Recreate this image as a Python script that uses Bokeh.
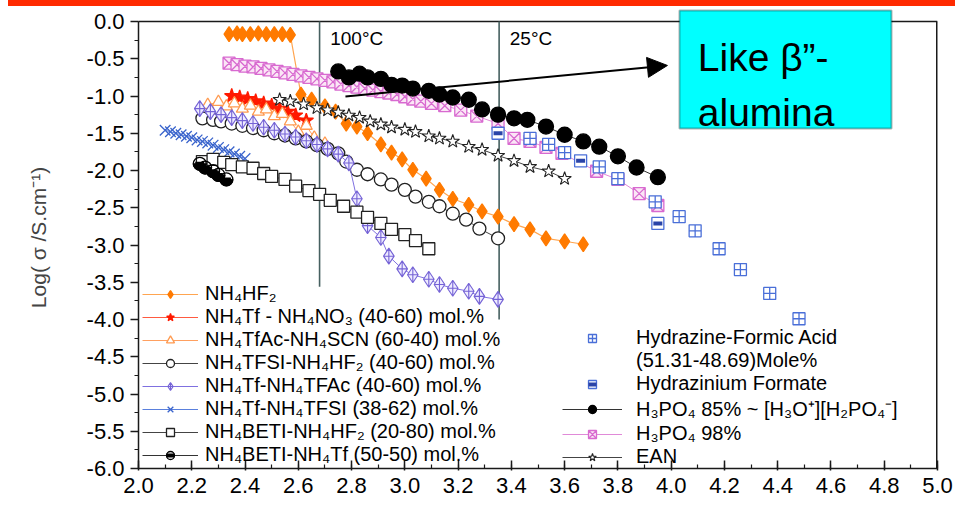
import numpy as np
from bokeh.plotting import figure
from bokeh.layouts import column
from bokeh.models import (Legend, LegendItem, SingleIntervalTicker, PrintfTickFormatter,
                          BoxAnnotation, Label, Arrow, NormalHead, Div)
from bokeh.embed import file_html
from bokeh.resources import INLINE

# ---------------- data: log(conductivity) against 1000/T ----------------
hf2_x = [2.34, 2.37, 2.39, 2.42, 2.45, 2.48, 2.51, 2.54, 2.57, 2.61, 2.65, 2.70, 2.74, 2.78,
         2.82, 2.86, 2.91, 2.95, 2.99, 3.03, 3.08, 3.13, 3.18, 3.24, 3.29, 3.35, 3.41, 3.47,
         3.53, 3.60, 3.67]
hf2_y = [-0.17, -0.16, -0.17, -0.17, -0.16, -0.17, -0.17, -0.17, -0.18, -0.98, -1.05, -1.14,
         -1.21, -1.37, -1.41, -1.50, -1.65, -1.76, -1.85, -1.99, -2.11, -2.26, -2.38, -2.46,
         -2.55, -2.62, -2.72, -2.79, -2.91, -2.95, -2.99]

no3_x = [2.35, 2.38, 2.41, 2.44, 2.47, 2.50, 2.53, 2.56, 2.59, 2.63]
no3_y = [-1.00, -1.02, -1.04, -1.07, -1.10, -1.13, -1.17, -1.21, -1.26, -1.33]

scn_x = [2.26, 2.30, 2.33, 2.36, 2.39, 2.42, 2.45, 2.48, 2.51, 2.54, 2.57, 2.60, 2.63, 2.66, 2.70]
scn_y = [-1.12, -1.08, -1.14, -1.10, -1.17, -1.13, -1.21, -1.18, -1.27, -1.24, -1.34, -1.48,
         -1.40, -1.56, -1.64]

tfsi_hf2_x = [2.24, 2.28, 2.31, 2.35, 2.39, 2.43, 2.47, 2.51, 2.55, 2.59, 2.63, 2.67, 2.71,
              2.75, 2.78, 2.82, 2.86, 2.91, 2.95, 3.00, 3.04, 3.09, 3.13, 3.18, 3.23, 3.28, 3.35]
tfsi_hf2_y = [-1.30, -1.32, -1.34, -1.37, -1.40, -1.43, -1.46, -1.50, -1.53, -1.57, -1.61,
              -1.66, -1.71, -1.77, -1.88, -1.99, -2.05, -2.12, -2.19, -2.26, -2.35, -2.42,
              -2.48, -2.58, -2.66, -2.78, -2.91]

tfac_x = [2.23, 2.27, 2.31, 2.35, 2.39, 2.43, 2.47, 2.51, 2.55, 2.59, 2.63, 2.67, 2.71, 2.75,
          2.79, 2.82, 2.86, 2.91, 2.94, 2.99, 3.03, 3.09, 3.13, 3.18, 3.24, 3.28, 3.35]
tfac_y = [-1.17, -1.21, -1.25, -1.29, -1.33, -1.37, -1.42, -1.46, -1.51, -1.55, -1.60, -1.65,
          -1.71, -1.78, -1.90, -2.38, -2.74, -2.90, -3.15, -3.32, -3.40, -3.46, -3.53, -3.58,
          -3.62, -3.69, -3.73]

tf_tfsi_x = [2.10, 2.12, 2.14, 2.16, 2.18, 2.20, 2.22, 2.24, 2.26, 2.28, 2.30, 2.32, 2.34,
             2.36, 2.38, 2.40]
tf_tfsi_y = [-1.46, -1.48, -1.50, -1.52, -1.54, -1.56, -1.59, -1.61, -1.63, -1.66, -1.69,
             -1.72, -1.75, -1.78, -1.81, -1.84]

beti_hf2_x = [2.24, 2.28, 2.32, 2.35, 2.39, 2.43, 2.47, 2.50, 2.55, 2.59, 2.64, 2.68, 2.72,
              2.77, 2.82, 2.86, 2.91, 2.95, 3.00, 3.04, 3.09]
beti_hf2_y = [-1.88, -1.85, -1.89, -1.92, -1.95, -1.97, -2.04, -2.08, -2.12, -2.21, -2.27,
              -2.32, -2.40, -2.48, -2.56, -2.63, -2.71, -2.79, -2.86, -2.94, -3.05]

beti_tf_x = [2.23, 2.25, 2.28, 2.30, 2.33]
beti_tf_y = [-1.91, -1.96, -2.01, -2.06, -2.12]

hfa_x = [3.47, 3.54, 3.60, 3.73, 3.80, 3.94, 4.03, 4.09, 4.18, 4.26, 4.37, 4.48]
hfa_y = [-1.57, -1.65, -1.76, -1.95, -2.11, -2.42, -2.62, -2.81, -3.05, -3.33, -3.65, -3.99]

hzf_x = [3.35, 3.66, 3.95]
hzf_y = [-1.50, -1.87, -2.71]

h3po4_85_x = [2.75, 2.79, 2.83, 2.86, 2.91, 2.95, 2.99, 3.03, 3.09, 3.13, 3.18, 3.24, 3.29,
              3.35, 3.41, 3.46, 3.53, 3.60, 3.67, 3.73, 3.80, 3.87, 3.95]
h3po4_85_y = [-0.67, -0.75, -0.70, -0.75, -0.77, -0.85, -0.86, -0.90, -0.93, -0.98, -1.02,
              -1.05, -1.18, -1.25, -1.30, -1.32, -1.41, -1.52, -1.61, -1.68, -1.81, -1.96, -2.09]

h3po4_98_x = [2.34, 2.37, 2.40, 2.43, 2.46, 2.49, 2.52, 2.55, 2.58, 2.61, 2.64, 2.67, 2.70,
              2.73, 2.76, 2.79, 2.82, 2.85, 2.88, 2.91, 2.94, 2.97, 3.00, 3.03, 3.06, 3.10,
              3.15, 3.21, 3.27, 3.35, 3.41, 3.47, 3.53, 3.59, 3.72, 3.80, 3.88, 3.95]
h3po4_98_y = [-0.56, -0.58, -0.60, -0.61, -0.63, -0.65, -0.67, -0.69, -0.71, -0.73, -0.75,
              -0.77, -0.79, -0.81, -0.84, -0.86, -0.88, -0.90, -0.92, -0.94, -0.96, -0.98,
              -1.01, -1.04, -1.07, -1.10, -1.13, -1.19, -1.27, -1.37, -1.57, -1.61, -1.69,
              -1.77, -2.01, -2.12, -2.31, -2.47]

ean_x = [2.53, 2.57, 2.62, 2.67, 2.71, 2.75, 2.79, 2.83, 2.87, 2.91, 2.95, 3.00, 3.04, 3.09,
         3.13, 3.18, 3.24, 3.29, 3.35, 3.41, 3.47, 3.54, 3.60]
ean_y = [-1.05, -1.07, -1.11, -1.16, -1.19, -1.22, -1.26, -1.29, -1.34, -1.38, -1.42, -1.45,
         -1.48, -1.54, -1.57, -1.61, -1.68, -1.72, -1.80, -1.87, -1.95, -2.01, -2.11]

# reference temperatures (deg C) and the depth of their marker lines
ref_temps = [100, 25]
ref_temp_labels = ["100°C", "25°C"]
ref_line_bottom = [-3.56, -4.0]

LEGEND_LEFT = [
    "NH₄HF₂",
    "NH₄Tf - NH₄NO₃ (40-60) mol.%",
    "NH₄TfAc-NH₄SCN (60-40) mol.%",
    "NH₄TFSI-NH₄HF₂ (40-60) mol.%",
    "NH₄Tf-NH₄TFAc (40-60) mol.%",
    "NH₄Tf-NH₄TFSI (38-62) mol.%",
    "NH₄BETI-NH₄HF₂ (20-80) mol.%",
    "NH₄BETI-NH₄Tf (50-50) mol.%",
]
LEGEND_RIGHT = [
    "Hydrazine-Formic Acid",
    "(51.31-48.69)Mole%",
    "Hydrazinium Formate",
    "H₃PO₄ 85% ~ [H₃O⁺][H₂PO₄⁻]",
    "H₃PO₄ 98%",
    "EAN",
]

FONT = "Liberation Sans"
Y_MIN, Y_MAX = -6.0, 0.0
X_MIN, X_MAX = 2.0, 5.0
# a little head room above 0.0 for the callout box
Y_TOP = 15.0 / 74.5

# ---------------- figure ----------------
p = figure(width=955, height=500, x_range=(X_MIN, X_MAX), y_range=(Y_MIN, Y_TOP),
           output_backend="svg", toolbar_location=None,
           min_border_left=138, min_border_right=18, min_border_top=0, min_border_bottom=38,
           background_fill_color="white", border_fill_color="white", margin=(0, 0, 0, 0))
p.grid.visible = False
p.outline_line_color = None

xa = p.xaxis[0]
xa.ticker = SingleIntervalTicker(interval=0.2, num_minor_ticks=2)
xa.formatter = PrintfTickFormatter(format="%.1f")
xa.major_tick_in = 8
xa.major_tick_out = 2
xa.minor_tick_in = 4
xa.minor_tick_out = 0
xa.major_label_standoff = 7
ya = p.yaxis[0]
ya.bounds = (Y_MIN, Y_MAX)
ya.ticker = SingleIntervalTicker(interval=0.5, num_minor_ticks=2)
ya.formatter = PrintfTickFormatter(format="%.1f")
ya.major_tick_in = 0
ya.major_tick_out = 8
ya.minor_tick_in = 0
ya.minor_tick_out = 4
ya.major_label_standoff = 6
ya.axis_label = "Log( σ /S.cm⁻¹)"
ya.axis_label_standoff = 34
ya.axis_label_text_font = FONT
ya.axis_label_text_font_size = "21px"
ya.axis_label_text_font_style = "normal"
for ax in (xa, ya):
    ax.major_label_text_font = FONT
    ax.major_label_text_font_size = "22px"
    ax.major_label_text_color = "black"
    ax.axis_line_color = "#1a1a1a"
    ax.axis_line_width = 1.5
    ax.major_tick_line_color = "#1a1a1a"
    ax.major_tick_line_width = 1.5
    ax.minor_tick_line_color = "#1a1a1a"
    ax.minor_tick_line_width = 1.2

# top and right edges of the plotting box
p.segment(x0=[X_MIN], y0=[Y_MAX], x1=[X_MAX], y1=[Y_MAX], line_color="#1a1a1a", line_width=1.5)
p.segment(x0=[X_MAX], y0=[Y_MIN], x1=[X_MAX], y1=[Y_MAX], line_color="#1a1a1a", line_width=3)

# reference temperature lines
ref_x = [1000.0 / (t + 273.15) for t in ref_temps]
p.segment(x0=ref_x, y0=[Y_MAX] * len(ref_x), x1=ref_x, y1=ref_line_bottom,
          line_color="#466060", line_width=1.6)
for xv, txt in zip(ref_x, ref_temp_labels):
    p.add_layout(Label(x=xv + 0.04, y=-0.23, text=txt, text_font=FONT,
                       text_font_size="19px", text_baseline="middle", text_color="black"))


def series(xs, ys, marker, size, line_color, fill_color, conn=None,
           conn_width=1.0, mline_width=1.3):
    rs = []
    if conn is not None:
        rs.append(p.line(xs, ys, line_color=conn, line_width=conn_width))
    rs.append(p.scatter(xs, ys, marker=marker, size=size, line_color=line_color,
                        line_width=mline_width, fill_color=fill_color))
    return rs


r_hf2 = series(hf2_x, hf2_y, "diamond", 15, "#ff7a00", "#ff7a00", conn="#ffa550", conn_width=1.2)
r_no3 = series(no3_x, no3_y, "star", 15, "#ff1a00", "#ff1a00", conn="#ff5a40")
r_scn = series(scn_x, scn_y, "triangle", 12, "#ff9a50", "white", conn="#ffa060")
r_tfsi_hf2 = series(tfsi_hf2_x, tfsi_hf2_y, "circle", 13, "#222222", "white", conn="#444444")
r_tfac = series(tfac_x, tfac_y, "diamond_cross", 16, "#7563d6", "#eeebff", conn="#7f70e0",
                mline_width=1.1)
r_tf_tfsi = series(tf_tfsi_x, tf_tfsi_y, "x", 15, "#3a64cc", None, conn="#5a80dd",
                   mline_width=1.3)
r_beti_hf2 = series(beti_hf2_x, beti_hf2_y, "square", 12, "#222222", "white", conn="#444444")

# half-filled circles: black lower half inside an open outline
r_beti_tf_line = p.line(beti_tf_x, beti_tf_y, line_color="#333333", line_width=1)
p.wedge(beti_tf_x, beti_tf_y, radius=6.5, radius_units="screen", start_angle=np.pi,
        end_angle=2 * np.pi, fill_color="black", line_color="black")
r_beti_tf_c = p.scatter(beti_tf_x, beti_tf_y, marker="circle", size=13, line_color="black",
                        line_width=1.3, fill_color=None)
r_beti_tf_bar = p.scatter(beti_tf_x, beti_tf_y, marker="dash", size=9, line_color="black",
                          line_width=4)

r_h98 = series(h3po4_98_x, h3po4_98_y, "square_x", 12, "#d86ad0", "#fbe6f6", conn="#e08ad8")
r_hfa = series(hfa_x, hfa_y, "square_cross", 12, "#4a6fd8", "white")
r_hzf_box = p.scatter(hzf_x, hzf_y, marker="square", size=12, line_color="#4a6fd8",
                      line_width=1.3, fill_color="white")
r_hzf_bar = p.scatter(hzf_x, hzf_y, marker="dash", size=9, line_color="#2a44a8", line_width=4)
r_h85 = series(h3po4_85_x, h3po4_85_y, "circle", 15, "black", "black", conn="#333333")
r_ean = series(ean_x, ean_y, "star", 14, "#222222", "white", conn="#444444", mline_width=1.1)

# placeholder for the wrapped second line of a legend entry
r_blank = p.scatter([], [], marker="circle", size=1, alpha=0)

left_renderers = [r_hf2, r_no3, r_scn, r_tfsi_hf2, r_tfac, r_tf_tfsi, r_beti_hf2,
                  [r_beti_tf_line, r_beti_tf_c, r_beti_tf_bar]]
right_renderers = [[r_hfa[-1]], [r_blank], [r_hzf_box, r_hzf_bar], r_h85, r_h98, r_ean]

common = dict(background_fill_alpha=0, border_line_alpha=0, padding=0, margin=0,
              label_text_font=FONT, label_text_font_size="20px", label_text_color="black",
              glyph_height=20, label_height=20, spacing=-1)
leg_left = Legend(items=[LegendItem(label=t, renderers=r)
                         for t, r in zip(LEGEND_LEFT, left_renderers)],
                  location=(4, 2), glyph_width=56, label_standoff=7, **common)
leg_right = Legend(items=[LegendItem(label=t, renderers=r)
                          for t, r in zip(LEGEND_RIGHT, right_renderers)],
                   location=(424, 0), glyph_width=60, label_standoff=14, **common)
p.add_layout(leg_left, "center")
p.add_layout(leg_right, "center")

# callout: arrow into a boxed note
p.add_layout(Arrow(end=NormalHead(size=20, fill_color="black", line_color="black"),
                   x_start=2.777, y_start=-1.007, x_end=3.986, y_end=-0.59,
                   line_color="black", line_width=2))
p.add_layout(BoxAnnotation(left=679, right=891, top=4, bottom=122,
                           left_units="canvas", right_units="canvas",
                           top_units="canvas", bottom_units="canvas",
                           fill_color="#00ffff", fill_alpha=1.0,
                           line_color="black", line_width=2))
p.add_layout(Label(x=4.10, y=-0.483, text="Like β”-", text_font=FONT,
                   text_font_size="39px", text_baseline="alphabetic", text_color="black"))
p.add_layout(Label(x=4.10, y=-1.221, text="alumina", text_font=FONT,
                   text_font_size="39px", text_baseline="alphabetic", text_color="black"))

# red banner across the top of the slide
banner = Div(text="", width=947, height=6, margin=(0, 0, 0, 8),
             styles={"background-color": "#ff2a00"})

page = column(banner, p, spacing=0, margin=(0, 0, 0, 0))
open("out.html", "w").write(file_html(page, INLINE))
